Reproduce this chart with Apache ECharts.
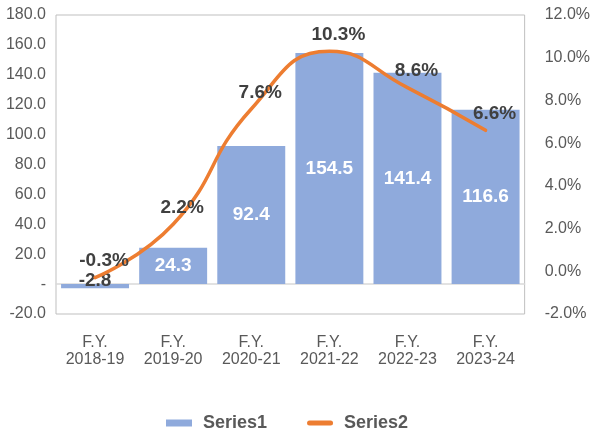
<!DOCTYPE html>
<html>
<head>
<meta charset="utf-8">
<script src="https://cdn.jsdelivr.net/npm/echarts@6/dist/echarts.min.js"></script>
<style>
  html, body { margin: 0; padding: 0; background: #fff; }
  #main { width: 593px; height: 432px; }
</style>
</head>
<body>
<div id="main"></div>
<script>
// data
const categories = ['F.Y.\n2018-19', 'F.Y.\n2019-20', 'F.Y.\n2020-21', 'F.Y.\n2021-22', 'F.Y.\n2022-23', 'F.Y.\n2023-24']
const series1 = [-2.8, 24.3, 92.4, 154.5, 141.4, 116.6]
const series2 = [-0.3, 2.2, 7.6, 10.3, 8.6, 6.6] // percent

const font = '"Liberation Sans", Arial, sans-serif'
const axisColor = '#595959'
const darkLabel = '#404040'

const chart = echarts.init(document.getElementById('main'))

const option = {
  animation: false,
  textStyle: { fontFamily: font },
  grid: {
    show: true,
    left: 56,
    right: 68,
    top: 15,
    bottom: 118,
    borderColor: '#BFBFBF',
    borderWidth: 1,
  },
  legend: {
    bottom: -5,
    left: 161,
    itemWidth: 26,
    itemHeight: 7,
    itemGap: 40,
    textStyle: {
      fontFamily: font,
      fontSize: 18,
      fontWeight: 'bold',
      color: axisColor,
      padding: [0, 0, 0, 6],
    },
    data: [
      { name: 'Series1', icon: 'rect' },
      {
        name: 'Series2',
        icon: 'path://M2.5,0 L23.5,0 A2.5,2.5 0 0 1 23.5,5 L2.5,5 A2.5,2.5 0 0 1 2.5,0 Z',
      },
    ],
  },
  xAxis: {
    type: 'category',
    data: categories,
    axisLine: { onZero: true, lineStyle: { color: '#D9D9D9', width: 1.5 } },
    axisTick: { show: false },
    axisLabel: {
      color: axisColor,
      fontSize: 16,
      lineHeight: 17,
      margin: 20,
      interval: 0,
    },
  },
  yAxis: [
    {
      type: 'value',
      min: -20,
      max: 180,
      interval: 20,
      axisLine: { show: false },
      axisTick: { show: false },
      splitLine: { show: false },
      axisLabel: {
        color: axisColor,
        fontSize: 16,
        margin: 10,
        formatter: (v) => (v === 0 ? '-' : v.toFixed(1)),
      },
    },
    {
      type: 'value',
      min: -2,
      max: 12,
      interval: 2,
      axisLine: { show: false },
      axisTick: { show: false },
      splitLine: { show: false },
      axisLabel: {
        color: axisColor,
        fontSize: 16,
        margin: 20,
        formatter: (v) => v.toFixed(1) + '%',
      },
    },
  ],
  series: [
    {
      name: 'Series1',
      type: 'bar',
      data: series1.map((v) =>
        v < 0
          ? { value: v, label: { color: darkLabel, offset: [0, -5] } }
          : v
      ),
      barCategoryGap: '13%',
      itemStyle: { color: '#8FAADC' },
      label: {
        show: true,
        position: 'inside',
        color: '#fff',
        fontSize: 19,
        fontWeight: 'bold',
        formatter: (p) => p.value.toFixed(1),
      },
      z: 2,
    },
    {
      name: 'Series2',
      type: 'line',
      yAxisIndex: 1,
      data: series2,
      smooth: 0.5,
      symbol: 'circle',
      symbolSize: 0,
      showSymbol: true,
      lineStyle: { color: '#ED7D31', width: 3.5, cap: 'round' },
      itemStyle: { color: '#ED7D31' },
      label: {
        show: true,
        position: 'top',
        distance: 7,
        offset: [9, 0],
        color: darkLabel,
        fontSize: 19,
        fontWeight: 'bold',
        formatter: (p) => p.value.toFixed(1) + '%',
      },
      z: 3,
    },
  ],
}

chart.setOption(option)
</script>
</body>
</html>
